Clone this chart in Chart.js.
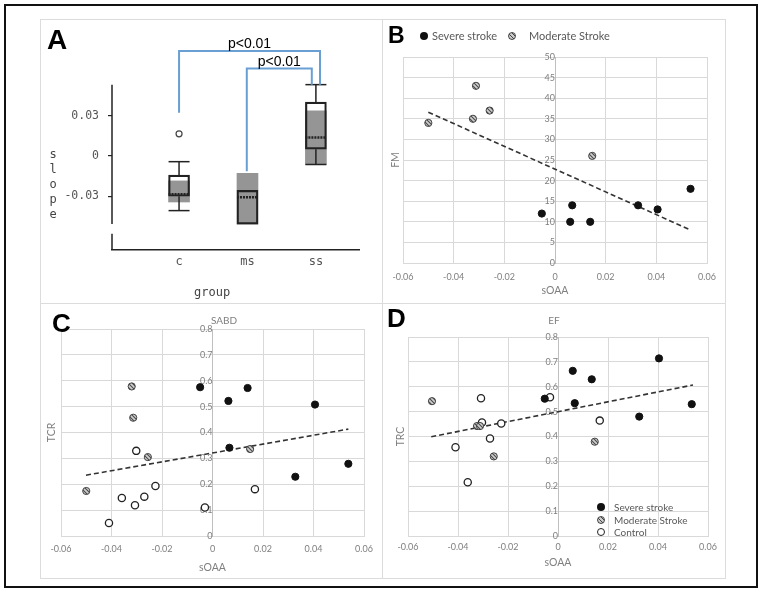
<!DOCTYPE html>
<html>
<head>
<meta charset="utf-8">
<script src="https://cdn.jsdelivr.net/npm/chart.js@4.4.0/dist/chart.umd.min.js"></script>
<style>
  html, body { margin: 0; padding: 0; background: #fff; }
  body { width: 762px; height: 593px; position: relative; overflow: hidden; font-family: Lato, sans-serif; }
  .frame { position: absolute; left: 4px; top: 4px; width: 750px; height: 580px; border: 2px solid #111; }
  .panel { position: absolute; border: 1px solid #dcdcdc; box-sizing: border-box; }
  canvas { position: absolute; }
  .letter { position: absolute; font: bold 26px "Liberation Sans", Arial, sans-serif; line-height: 26px; color: #000; }
  .mono { position: absolute; font: 12px "DejaVu Sans Mono", monospace; color: #444; }
  .leg { position: absolute; font: 10px Lato, sans-serif; color: #595959; line-height: 12px; white-space: nowrap; }
  .ttl { position: absolute; font: 10px Lato, sans-serif; color: #7f7f7f; line-height: 12px; width: 60px; text-align: center; }
  .dot { position: absolute; width: 8px; height: 8px; border-radius: 50%; box-sizing: border-box; }
  .dot.sev { background: #111; }
  .dot.mod { background: repeating-linear-gradient(45deg, #444 0 1px, #ccc 1px 3px); border: 1px solid #444; }
  .dot.ctl { background: #fff; border: 1.3px solid #222; }
</style>
</head>
<body>
<div class="frame"></div>
<div class="panel" style="left:40px;top:19px;width:343px;height:285px"></div>
<div class="panel" style="left:382px;top:19px;width:344px;height:285px"></div>
<div class="panel" style="left:40px;top:303px;width:343px;height:276px"></div>
<div class="panel" style="left:382px;top:303px;width:344px;height:276px"></div>

<canvas id="chartA" width="342" height="284" style="left:40px;top:19px"></canvas>
<canvas id="chartB" width="343" height="284" style="left:382px;top:19px"></canvas>
<canvas id="chartC" width="342" height="275" style="left:40px;top:303px"></canvas>
<canvas id="chartD" width="343" height="275" style="left:382px;top:303px"></canvas>

<div class="letter" style="left:47px;top:26px;font-size:28px;line-height:28px">A</div>
<div class="letter" style="left:388px;top:24px;font-size:23px;line-height:23px">B</div>
<div class="letter" style="left:52px;top:310px">C</div>
<div class="letter" style="left:387px;top:305px">D</div>

<div class="mono" style="left:48px;top:147px;width:10px;text-align:center;line-height:15px">s<br>l<br>o<br>p<br>e</div>
<div class="mono" style="left:194px;top:284px;line-height:16px">group</div>

<div class="ttl" style="left:194px;top:314px">SABD</div>
<div class="ttl" style="left:524px;top:314px">EF</div>

<!-- legend B -->
<div class="dot sev" style="left:420px;top:32px"></div>
<div class="leg" style="left:432px;top:30px;font-size:11px">Severe stroke</div>
<div class="dot mod" style="left:508px;top:32px"></div>
<div class="leg" style="left:529px;top:30px;font-size:11px">Moderate Stroke</div>

<!-- legend D -->
<div class="dot sev" style="left:597px;top:503px"></div>
<div class="leg" style="left:614px;top:501px">Severe stroke</div>
<div class="dot mod" style="left:597px;top:516px"></div>
<div class="leg" style="left:614px;top:514px">Moderate Stroke</div>
<div class="dot ctl" style="left:597px;top:528px"></div>
<div class="leg" style="left:614px;top:526px">Control</div>

<script>
// A: slope per group (box plot)
const groups = ['c', 'ms', 'ss'];
const groupPos = [1, 2, 3];
const boxQ1 = [-0.0300, -0.0507, 0.0050];
const boxQ3 = [-0.0143, -0.0257, 0.0400];
const shadeLo = [-0.0343, -0.0507, -0.0064];
const shadeHi = [-0.0186, -0.0129, 0.0336];
const medians = [-0.0285, -0.0307, 0.0136];
const whiskerLo = [-0.0407, null, -0.0064];
const whiskerHi = [-0.0043, null, 0.0530];
const outliers = [[1, 0.0164]];
const slopeTicks = [-0.03, 0, 0.03];
const pBrackets = [
    { x0: 1, y0: 0.032, x1: 3.06, y1: 0.053, top: 0.078, label: 'p<0.01' },
    { x0: 1.99, y0: -0.0114, x1: 2.94, y1: 0.053, top: 0.065, label: 'p<0.01' }
];

// B: FM vs sOAA
const fmSevere = [[-0.0052, 12], [0.0060, 10], [0.0068, 14], [0.0139, 10], [0.0328, 14], [0.0405, 13], [0.0535, 18]];
const fmModerate = [[-0.0500, 34], [-0.0312, 43], [-0.0324, 35], [-0.0258, 37], [0.0147, 26]];
const fmTrend = [[-0.0500, 36.6], [0.0528, 8.2]];

// C: SABD, TCR vs sOAA
const tcrSevere = [[-0.0049, 0.575], [0.0063, 0.522], [0.0139, 0.572], [0.0067, 0.341], [0.0406, 0.508], [0.0328, 0.229], [0.0538, 0.279]];
const tcrModerate = [[-0.0320, 0.578], [-0.0314, 0.457], [-0.0256, 0.305], [-0.0500, 0.174], [0.0149, 0.336]];
const tcrControl = [[-0.0302, 0.329], [-0.0359, 0.147], [-0.0307, 0.119], [-0.0270, 0.152], [-0.0226, 0.193], [-0.0410, 0.050], [-0.0030, 0.110], [0.0168, 0.181]];
const tcrTrend = [[-0.0501, 0.235], [0.0538, 0.413]];

// D: EF, TRC vs sOAA
const trcSevere = [[-0.0053, 0.552], [0.0059, 0.664], [0.0067, 0.534], [0.0135, 0.630], [0.0325, 0.480], [0.0404, 0.714], [0.0535, 0.530]];
const trcModerate = [[-0.0504, 0.542], [-0.0324, 0.442], [-0.0312, 0.442], [-0.0257, 0.320], [0.0147, 0.379]];
const trcControl = [[-0.0308, 0.554], [-0.0304, 0.456], [-0.0272, 0.392], [-0.0227, 0.452], [-0.0410, 0.357], [-0.0361, 0.216], [-0.0032, 0.558], [0.0167, 0.464]];
const trcTrend = [[-0.0507, 0.399], [0.0540, 0.607]];


Chart.defaults.font.family = 'Lato';
Chart.defaults.color = '#7f7f7f';

const toPts = arr => arr.map(([x, y]) => ({ x, y }));

// striped fill for moderate stroke markers
function makeHatch() {
    const c = document.createElement('canvas');
    c.width = c.height = 4;
    const g = c.getContext('2d');
    g.fillStyle = '#d0d0d0';
    g.fillRect(0, 0, 4, 4);
    g.strokeStyle = '#4a4a4a';
    g.lineWidth = 1.1;
    g.beginPath();
    g.moveTo(0, 0); g.lineTo(4, 4);
    g.moveTo(-1, 3); g.lineTo(1, 5);
    g.moveTo(3, -1); g.lineTo(5, 1);
    g.stroke();
    return g.createPattern(c, 'repeat');
}
const hatch = makeHatch();

// ---------- A ----------
const boxData = groupPos.map((g, i) => ({ x: g, y: [boxQ1[i], boxQ3[i]] }));
const shadeData = groupPos.map((g, i) => ({ x: g, y: [shadeLo[i], shadeHi[i]] }));

const boxDetails = {
    id: 'boxDetails',
    afterDatasetsDraw(chart) {
        const { ctx, chartArea, scales: { x, y } } = chart;
        const line = (x1, y1, x2, y2) => { ctx.beginPath(); ctx.moveTo(x1, y1); ctx.lineTo(x2, y2); ctx.stroke(); };
        ctx.save();
        ctx.strokeStyle = '#222';
        ctx.lineWidth = 1.5;

        // broken y axis line
        const ax = chartArea.left;
        line(ax, y.getPixelForValue(-0.0507), ax, y.getPixelForValue(0.053));
        line(ax, y.getPixelForValue(-0.058), ax, chartArea.bottom);

        const w = 10.5;
        groupPos.forEach((g, i) => {
            const px = x.getPixelForValue(g);
            if (whiskerHi[i] != null) {
                const top = y.getPixelForValue(whiskerHi[i]);
                line(px, y.getPixelForValue(boxQ3[i]), px, top);
                line(px - w, top, px + w, top);
            }
            if (whiskerLo[i] != null) {
                const bot = y.getPixelForValue(whiskerLo[i]);
                line(px, y.getPixelForValue(boxQ1[i]), px, bot);
                line(px - w, bot, px + w, bot);
            }
            ctx.save();
            ctx.setLineDash([2, 1]);
            ctx.lineWidth = 2.5;
            const my = y.getPixelForValue(medians[i]);
            line(px - w, my, px + w, my);
            ctx.restore();
        });

        // significance brackets
        ctx.strokeStyle = '#6a9fd4';
        ctx.lineWidth = 2;
        ctx.fillStyle = '#000';
        ctx.font = '14px "Liberation Sans", Arial, sans-serif';
        ctx.textAlign = 'center';
        ctx.textBaseline = 'alphabetic';
        pBrackets.forEach(b => {
            const x0 = x.getPixelForValue(b.x0), x1 = x.getPixelForValue(b.x1);
            const t = y.getPixelForValue(b.top);
            ctx.beginPath();
            ctx.moveTo(x0, y.getPixelForValue(b.y0));
            ctx.lineTo(x0, t);
            ctx.lineTo(x1, t);
            ctx.lineTo(x1, y.getPixelForValue(b.y1));
            ctx.stroke();
            ctx.fillText(b.label, (x0 + x1) / 2, t - 3);
        });
        ctx.restore();
    }
};

new Chart(document.getElementById('chartA'), {
    type: 'bar',
    data: {
        datasets: [
            { data: boxData, backgroundColor: '#fff', borderWidth: 0, grouped: false, barThickness: 21, order: 3 },
            { data: shadeData, backgroundColor: '#959595', borderWidth: 0, grouped: false, barThickness: 21, order: 2 },
            { data: boxData, backgroundColor: 'rgba(0,0,0,0)', borderColor: '#222', borderWidth: 1.5, borderSkipped: false, grouped: false, barThickness: 21, order: 1 },
            { type: 'scatter', data: toPts(outliers), pointRadius: 3, backgroundColor: '#fff', borderColor: '#444', borderWidth: 1.2, order: 0 }
        ]
    },
    options: {
        responsive: false,
        animation: false,
        layout: { padding: { top: 7, right: 23, left: 0, bottom: 0 } },
        plugins: { legend: { display: false }, tooltip: { enabled: false } },
        scales: {
            x: {
                type: 'linear', min: 0.02, max: 3.63, offset: false,
                afterBuildTicks: s => { s.ticks = groupPos.map(v => ({ value: v })); },
                ticks: { callback: (v, i) => groups[i], color: '#555', font: { family: 'DejaVu Sans Mono', size: 12 }, padding: 5 },
                grid: { display: false, drawTicks: false },
                border: { display: true, color: '#222', width: 1.5 },
                afterFit: s => { s.height = 53; }
            },
            y: {
                min: -0.07, max: 0.09,
                afterBuildTicks: s => { s.ticks = slopeTicks.map(v => ({ value: v })); },
                ticks: { callback: v => String(v), color: '#555', font: { family: 'DejaVu Sans Mono', size: 11.5 }, padding: 9 },
                grid: { drawOnChartArea: false, tickLength: 4, color: '#222', lineWidth: 1.2 },
                border: { display: false },
                afterFit: s => { s.width = 72; }
            }
        }
    },
    plugins: [boxDetails]
});

// ---------- scatter panels ----------
const tickFont = { family: 'Lato', size: 9 };

function soaaAxis(height, pad, titlePad) {
    return {
        type: 'linear', position: 'bottom', min: -0.06, max: 0.06,
        ticks: { stepSize: 0.02, color: '#7f7f7f', font: tickFont, padding: pad },
        grid: { color: '#d9d9d9', drawTicks: false },
        border: { color: '#d9d9d9' },
        title: { display: true, text: 'sOAA', color: '#7f7f7f', font: { family: 'Lato', size: 10.5 }, padding: { top: 0, bottom: titlePad } },
        afterFit: s => { s.height = height; }
    };
}
function valueAxis(max, step, pad) {
    return {
        type: 'linear', position: { x: 0 }, min: 0, max: max,
        ticks: { stepSize: step, color: '#7f7f7f', font: tickFont, padding: pad },
        grid: { color: '#d9d9d9', drawTicks: false },
        border: { color: '#bfbfbf' }
    };
}
function titleAxis(text, width, pad) {
    return {
        type: 'linear', position: 'left',
        ticks: { display: false }, grid: { display: false }, border: { display: false },
        title: { display: true, text: text, color: '#7f7f7f', font: { family: 'Lato', size: 10.5 }, padding: { top: pad, bottom: 0 } },
        afterFit: s => { s.width = width; }
    };
}

function severe(arr) {
    return { label: 'Severe stroke', data: toPts(arr), xAxisID: 'x', yAxisID: 'y', pointRadius: 3.6, backgroundColor: '#111', borderColor: '#111', borderWidth: 1, order: 0 };
}
function moderate(arr) {
    return { label: 'Moderate Stroke', data: toPts(arr), xAxisID: 'x', yAxisID: 'y', pointRadius: 3.6, backgroundColor: hatch, borderColor: '#444', borderWidth: 1, order: 0 };
}
function control(arr) {
    return { label: 'Control', data: toPts(arr), xAxisID: 'x', yAxisID: 'y', pointRadius: 3.6, backgroundColor: '#fff', borderColor: '#222', borderWidth: 1.3, order: 0 };
}
function trend(arr) {
    return { type: 'line', data: toPts(arr), xAxisID: 'x', yAxisID: 'y', borderColor: '#333', borderWidth: 1.6, borderDash: [5, 3], pointRadius: 0, fill: false, order: 1 };
}

// B
new Chart(document.getElementById('chartB'), {
    type: 'scatter',
    data: { datasets: [severe(fmSevere), moderate(fmModerate), trend(fmTrend)] },
    options: {
        responsive: false,
        animation: false,
        layout: { padding: { top: 38, right: 18, left: 0, bottom: 0 } },
        plugins: { legend: { display: false }, tooltip: { enabled: false } },
        scales: { x: soaaAxis(40, 9, 6), y: valueAxis(50, 5, 2), yt: titleAxis('FM', 21, 7) }
    }
});

// C
new Chart(document.getElementById('chartC'), {
    type: 'scatter',
    data: { datasets: [severe(tcrSevere), moderate(tcrModerate), control(tcrControl), trend(tcrTrend)] },
    options: {
        responsive: false,
        animation: false,
        layout: { padding: { top: 26, right: 18, left: 0, bottom: 0 } },
        plugins: { legend: { display: false }, tooltip: { enabled: false } },
        scales: { x: soaaAxis(42, 8, 4), y: valueAxis(0.8, 0.1, 8), yt: titleAxis('TCR', 21, 5) }
    }
});

// D
new Chart(document.getElementById('chartD'), {
    type: 'scatter',
    data: { datasets: [severe(trcSevere), moderate(trcModerate), control(trcControl), trend(trcTrend)] },
    options: {
        responsive: false,
        animation: false,
        layout: { padding: { top: 34, right: 17, left: 0, bottom: 0 } },
        plugins: { legend: { display: false }, tooltip: { enabled: false } },
        scales: { x: soaaAxis(42, 6, 9), y: valueAxis(0.8, 0.1, 4), yt: titleAxis('TRC', 26, 12) }
    }
});
</script>
</body>
</html>
